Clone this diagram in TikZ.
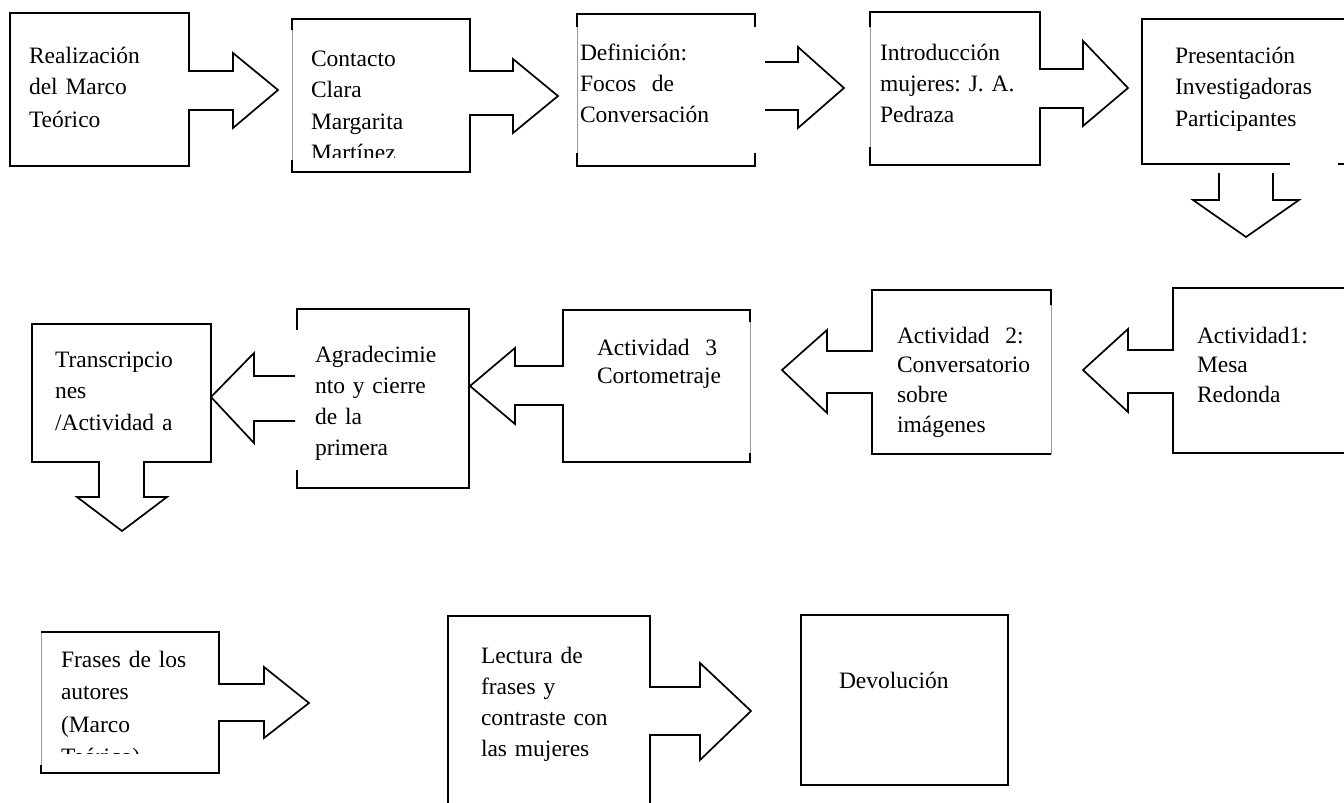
\documentclass[tikz,border=0pt]{standalone}
\usepackage{fontspec}
\setmainfont{Liberation Serif}
\newcommand\txtsz[1]{\fontsize{23.5}{#1}\selectfont}
\frenchspacing
\begin{document}
\begin{tikzpicture}[x=1pt,y=-1pt,
  outl/.style={line width=1.7pt,line join=miter,draw=black},
  faint/.style={line width=0.6pt,draw=black!40},
  txt/.style={anchor=base west,inner sep=0pt,outer sep=0pt,align=left,text width=230pt}]
\useasboundingbox (0,0) rectangle (1344,803);

% ---------- Row 1 ----------
% Box 1 with right arrow
\draw[outl] (10,13) -- (189,13) -- (189,71) -- (233,71) -- (233,53) -- (278,90) -- (233,128) -- (233,110) -- (189,110) -- (189,166) -- (10,166) -- cycle;
\node[txt,font=\txtsz{32}] (t1) at (29,63) {Realización\\del Marco\\Teórico};

% Box 2 with right arrow
\draw[faint] (292,30) -- (292,160);
\draw[outl] (292,30) -- (292,19) -- (470,19) -- (470,71) -- (513,71) -- (513,59) -- (558,96) -- (513,133) -- (513,115) -- (470,115) -- (470,172) -- (292,172) -- (292,160);
\begin{scope}
\clip (292,19) rectangle (470,157);
\node[txt,font=\txtsz{31.5}] (t2) at (311,66) {Contacto\\Clara\\Margarita\\Martínez};
\end{scope}

% Box 3
\draw[faint] (577,14) -- (577,166);
\draw[outl] (577,27) -- (577,14) -- (755,14) -- (755,27);
\draw[outl] (577,153) -- (577,166) -- (755,166) -- (755,153);
\node[txt,font=\txtsz{31}] (t3) at (580,60) {Definición:\\Focos~~de\\Conversación};

% Arrow 3 -> 4
\draw[outl] (765,62) -- (798,62) -- (798,47) -- (844,88) -- (798,128) -- (798,110) -- (765,110);

% Box 4 with right arrow
\draw[faint] (870,12) -- (870,165);
\draw[outl] (870,27) -- (870,12) -- (1040,12) -- (1040,69) -- (1083,69) -- (1083,41) -- (1128,88) -- (1083,126) -- (1083,108) -- (1040,108) -- (1040,165) -- (870,165) -- (870,147);
\node[txt,font=\txtsz{31}] (t4) at (880,60) {Introducción\\mujeres: J. A.\\Pedraza};

% Box 5
\draw[outl] (1344,19) -- (1142,19) -- (1142,164) -- (1290,164);
\draw[outl] (1338,164) -- (1344,164);
\node[txt,font=\txtsz{31.5}] (t5) at (1175,63) {Presentación\\Investigadoras\\Participantes};

% Down arrow 5 -> 6
\draw[outl] (1219,173) -- (1219,200) -- (1193,200) -- (1246,237) -- (1299,200) -- (1273,200) -- (1273,173);

% ---------- Row 2 ----------
% Actividad1 with left arrow
\draw[outl] (1344,288) -- (1173,288) -- (1173,350) -- (1128,350) -- (1128,329) -- (1083,370) -- (1128,412) -- (1128,393) -- (1173,393) -- (1173,453) -- (1344,453);
\node[txt,font=\txtsz{29.7}] (t6) at (1197,343) {Actividad1:\\Mesa\\Redonda};

% Actividad 2 with left arrow
\draw[faint] (1051,300) -- (1051,454);
\draw[outl] (1051,305) -- (1051,290) -- (872,290) -- (872,351) -- (827,351) -- (827,330) -- (782,370) -- (827,413) -- (827,393) -- (872,393) -- (872,454) -- (1051,454);
\node[txt,font=\txtsz{29.7}] (t7) at (897,343) {Actividad~~2:\\Conversatorio\\sobre\\imágenes};

% Actividad 3 with left arrow
\draw[faint] (750,320) -- (750,455);
\draw[outl] (750,322) -- (750,310) -- (563,310) -- (563,366) -- (515,366) -- (515,348) -- (470,386) -- (515,424) -- (515,405) -- (563,405) -- (563,462) -- (750,462) -- (750,453);
\node[txt,font=\txtsz{28}] (t8) at (597,355) {Actividad~~3\\Cortometraje};

% Agradecimiento with left arrow
\draw[outl] (297,330) -- (297,309) -- (469,309) -- (469,488) -- (297,488) -- (297,470);
\draw[outl] (295,376) -- (254,376) -- (254,353) -- (211,397) -- (254,443) -- (254,421) -- (295,421);
\begin{scope}
\clip (297,309) rectangle (469,460);
\node[txt,font=\txtsz{31}] (t9) at (315,362) {Agradecimie\\nto y cierre\\de la\\primera};
\end{scope}

% Transcripciones with down arrow
\draw[outl] (32,324) -- (211,324) -- (211,462) -- (144,462) -- (144,497) -- (167,497) -- (122,531) -- (77,497) -- (99,497) -- (99,462) -- (32,462) -- cycle;
\node[txt,font=\txtsz{31.5}] (t10) at (55,367) {Transcripcio\\nes\\/Actividad a};

% ---------- Row 3 ----------
% Frases with right arrow
\draw[faint] (41,632) -- (41,773);
\draw[outl] (41,632) -- (219,632) -- (219,684) -- (264,684) -- (264,667) -- (309,703) -- (264,738) -- (264,721) -- (219,721) -- (219,773) -- (41,773) -- (41,765);
\begin{scope}
\clip (41,632) rectangle (219,753);
\node[txt,font=\txtsz{32.5}] (t11) at (61,667) {Frases de los\\autores\\(Marco\\Teórico)};
\end{scope}

% Lectura with right arrow
\draw[outl] (448,803) -- (448,616) -- (650,616) -- (650,687) -- (700,687) -- (700,663) -- (751,711) -- (700,760) -- (700,735) -- (650,735) -- (650,803);
\node[txt,font=\txtsz{31.3}] (t12) at (481,663) {Lectura de\\frases y\\contraste con\\las mujeres};

% Devolucion
\draw[outl] (801,615) rectangle (1008,785);
\node[txt,font=\txtsz{31}] (t13) at (839,688) {Devolución};
\end{tikzpicture}
\end{document}
